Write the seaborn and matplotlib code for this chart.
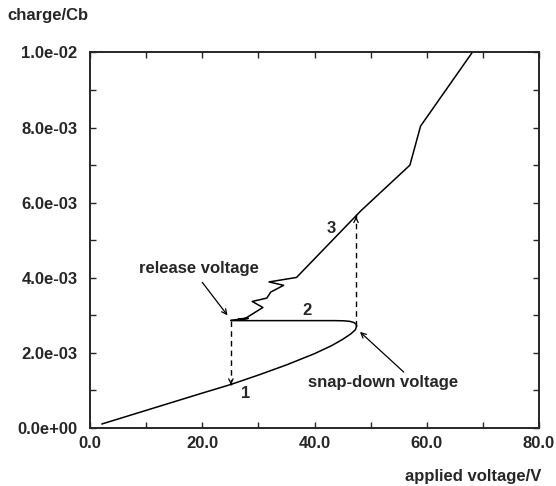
import matplotlib
matplotlib.use("Agg")
import matplotlib.pyplot as plt
import pandas as pd
import seaborn as sns
from matplotlib.ticker import MultipleLocator, FormatStrFormatter

# branch 1: lower (stable) branch up to snap-down point
lower_v = [2.1, 5, 10, 15, 20, 25, 30, 35, 40, 43, 45, 46.5, 47.3, 47.5]
lower_q = [0.107, 0.24, 0.47, 0.70, 0.93, 1.155, 1.41, 1.68, 1.98, 2.19, 2.36, 2.51, 2.62, 2.72]

# branch 2: unstable branch back to release point
mid_v = [47.5, 47.4, 47.0, 46.3, 45.2, 43.5, 40, 35, 30, 25.1]
mid_q = [2.72, 2.77, 2.81, 2.84, 2.855, 2.86, 2.86, 2.86, 2.86, 2.86]

# branch 3: collapsed branch
upper_v = [25.1, 28.2, 26.4, 27.8, 30.8, 28.9, 31.5, 32.2, 34.5, 31.9,
           36.8, 48.3, 57.0, 58.9, 68.1]
upper_q = [2.87, 2.92, 2.89, 2.93, 3.21, 3.37, 3.46, 3.62, 3.80, 3.89,
           4.01, 5.79, 7.0, 8.04, 10.0]

# jumps (dashed)
release_v = [25.1, 25.1]
release_q = [2.86, 1.155]
snap_v = [47.4, 47.4]
snap_q = [2.72, 5.70]

sns.set_style("ticks")
plt.rcParams["font.family"] = ["Liberation Sans", "DejaVu Sans"]
plt.rcParams["font.weight"] = "bold"

fig = plt.figure(figsize=(5.56, 4.86), dpi=100)
ax = fig.add_axes([0.1619, 0.1193, 0.8075, 0.7727])

for v, q in [(lower_v, lower_q), (mid_v, mid_q), (upper_v, upper_q)]:
    df = pd.DataFrame({"V": v, "Q": [x * 1e-3 for x in q]})
    sns.lineplot(data=df, x="V", y="Q", sort=False, estimator=None,
                 color="black", linewidth=1.1, ax=ax)

for v, q in [(release_v, release_q), (snap_v, snap_q)]:
    df = pd.DataFrame({"V": v, "Q": [x * 1e-3 for x in q]})
    sns.lineplot(data=df, x="V", y="Q", sort=False, estimator=None,
                 color="black", linewidth=1.0, linestyle=(0, (4, 3)), ax=ax)
    # small arrow head at the end of the jump
    d = (q[1] - q[0]) * 1e-3
    ax.annotate("", xy=(v[1], q[1] * 1e-3), xytext=(v[1], q[1] * 1e-3 - 0.05 * d),
                arrowprops=dict(arrowstyle="->", color="black", lw=0.9,
                                mutation_scale=8))

ax.set_xlim(0, 80)
ax.set_ylim(0, 0.01)
ax.xaxis.set_major_locator(MultipleLocator(20))
ax.xaxis.set_minor_locator(MultipleLocator(10))
ax.yaxis.set_major_locator(MultipleLocator(0.002))
ax.yaxis.set_minor_locator(MultipleLocator(0.001))
ax.xaxis.set_major_formatter(FormatStrFormatter("%.1f"))
ax.yaxis.set_major_formatter(plt.FuncFormatter(lambda y, p: f"{y:.1e}"))
ax.tick_params(which="both", direction="in", top=True, right=True,
               length=4, width=1.0, labelsize=12)
ax.tick_params(axis="y", pad=9)
ax.tick_params(axis="x", pad=6)
for s in ax.spines.values():
    s.set_linewidth(1.4)
ax.set_xlabel("")
ax.set_ylabel("")

fig.text(0.0126, 0.969, "charge/Cb", fontsize=12, fontweight="bold", va="center")
fig.text(0.973, 0.019, "applied voltage/V", fontsize=12, fontweight="bold",
         ha="right", va="center")

ax.text(27.8, 0.93e-3, "1", fontsize=12, fontweight="bold", ha="center", va="center")
ax.text(38.7, 3.14e-3, "2", fontsize=12, fontweight="bold", ha="center", va="center")
ax.text(42.9, 5.30e-3, "3", fontsize=12, fontweight="bold", ha="center", va="center")

ax.text(19.4, 4.26e-3, "release voltage", fontsize=12, fontweight="bold",
        ha="center", va="center")
ax.annotate("", xy=(24.5, 3.0e-3), xytext=(20.0, 3.88e-3),
            arrowprops=dict(arrowstyle="->", color="black", lw=0.9,
                            mutation_scale=9, shrinkA=0, shrinkB=0))
ax.text(52.2, 1.22e-3, "snap-down voltage", fontsize=12, fontweight="bold",
        ha="center", va="center")
ax.annotate("", xy=(48.1, 2.56e-3), xytext=(55.9, 1.49e-3),
            arrowprops=dict(arrowstyle="->", color="black", lw=0.9,
                            mutation_scale=9, shrinkA=0, shrinkB=0))

fig.savefig("out.png", dpi=100)
